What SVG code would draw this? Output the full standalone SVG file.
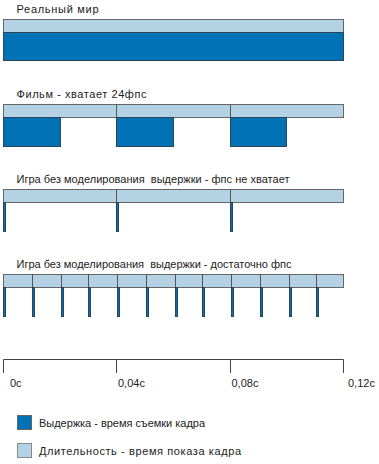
<svg xmlns="http://www.w3.org/2000/svg" width="379" height="464" viewBox="0 0 379 464">
<style>
text{font-family:"Liberation Sans",Arial,sans-serif;font-size:11px;fill:#222;white-space:pre}
.lt{fill:#b3d3e4;stroke:#666;stroke-width:1}
.dk{fill:#0072b5;stroke:#2a4558;stroke-width:1}
.div{stroke:#555;stroke-width:1}
.ax{stroke:#444;stroke-width:1;fill:none}
</style>
<rect width="379" height="464" fill="#fff"/>
<g id="row1">
<text x="16.5" y="13" textLength="82" lengthAdjust="spacing">Реальный мир</text>
<rect class="lt" x="3.5" y="19.5" width="340" height="13"/>
<rect class="dk" x="3.5" y="32.5" width="340" height="28"/>
</g>
<g id="row2">
<text x="16.5" y="98" textLength="130" lengthAdjust="spacing">Фильм - хватает 24фпс</text>
<rect class="lt" x="3.5" y="104.5" width="340" height="13"/>
<line class="div" x1="116.5" y1="104.5" x2="116.5" y2="117.5"/>
<line class="div" x1="230.5" y1="104.5" x2="230.5" y2="117.5"/>
<rect class="dk" x="3.5" y="117.5" width="57" height="29"/>
<rect class="dk" x="116.5" y="117.5" width="57" height="29"/>
<rect class="dk" x="230.5" y="117.5" width="56" height="29"/>
</g>
<g id="row3">
<text x="16.5" y="183" textLength="273" lengthAdjust="spacing">Игра без моделирования  выдержки - фпс не хватает</text>
<rect class="lt" x="3.5" y="189.5" width="340" height="13"/>
<line class="div" x1="116.5" y1="189.5" x2="116.5" y2="202.5"/>
<line class="div" x1="230.5" y1="189.5" x2="230.5" y2="202.5"/>
<rect class="dk" x="3.5" y="202.5" width="2" height="29"/>
<rect class="dk" x="116.5" y="202.5" width="2" height="29"/>
<rect class="dk" x="230.5" y="202.5" width="2" height="29"/>
</g>
<g id="row4">
<text x="16.5" y="268" textLength="275" lengthAdjust="spacing">Игра без моделирования  выдержки - достаточно фпс</text>
<rect class="lt" x="3.5" y="274.5" width="340" height="13"/>
<g class="div">
<line x1="32.5" y1="274.5" x2="32.5" y2="287.5"/>
<line x1="61.5" y1="274.5" x2="61.5" y2="287.5"/>
<line x1="88.5" y1="274.5" x2="88.5" y2="287.5"/>
<line x1="117.5" y1="274.5" x2="117.5" y2="287.5"/>
<line x1="146.5" y1="274.5" x2="146.5" y2="287.5"/>
<line x1="175.5" y1="274.5" x2="175.5" y2="287.5"/>
<line x1="202.5" y1="274.5" x2="202.5" y2="287.5"/>
<line x1="231.5" y1="274.5" x2="231.5" y2="287.5"/>
<line x1="260.5" y1="274.5" x2="260.5" y2="287.5"/>
<line x1="289.5" y1="274.5" x2="289.5" y2="287.5"/>
<line x1="316.5" y1="274.5" x2="316.5" y2="287.5"/>
</g>
<rect class="dk" x="3.5" y="287.5" width="2" height="29"/>
<rect class="dk" x="32.5" y="287.5" width="2" height="29"/>
<rect class="dk" x="61.5" y="287.5" width="2" height="29"/>
<rect class="dk" x="88.5" y="287.5" width="2" height="29"/>
<rect class="dk" x="117.5" y="287.5" width="2" height="29"/>
<rect class="dk" x="146.5" y="287.5" width="2" height="29"/>
<rect class="dk" x="175.5" y="287.5" width="2" height="29"/>
<rect class="dk" x="202.5" y="287.5" width="2" height="29"/>
<rect class="dk" x="231.5" y="287.5" width="2" height="29"/>
<rect class="dk" x="260.5" y="287.5" width="2" height="29"/>
<rect class="dk" x="289.5" y="287.5" width="2" height="29"/>
<rect class="dk" x="316.5" y="287.5" width="2" height="29"/>
</g>
<g id="axis">
<path class="ax" d="M3.5 373V359.5H343.5V373M116.5 359.5V373M230.5 359.5V373"/>
<text x="10" y="387">0c</text>
<text x="118" y="387">0,04c</text>
<text x="231.5" y="387">0,08c</text>
<text x="348" y="387">0,12c</text>
</g>
<g id="legend">
<rect class="dk" x="17.5" y="415.5" width="14" height="14" style="stroke:#666"/>
<text x="39" y="427" textLength="166" lengthAdjust="spacing">Выдержка - время съемки кадра</text>
<rect class="lt" x="17.5" y="443.5" width="14" height="14" style="stroke:#888"/>
<text x="39" y="455" textLength="202" lengthAdjust="spacing">Длительность - время показа кадра</text>
</g>
</svg>
